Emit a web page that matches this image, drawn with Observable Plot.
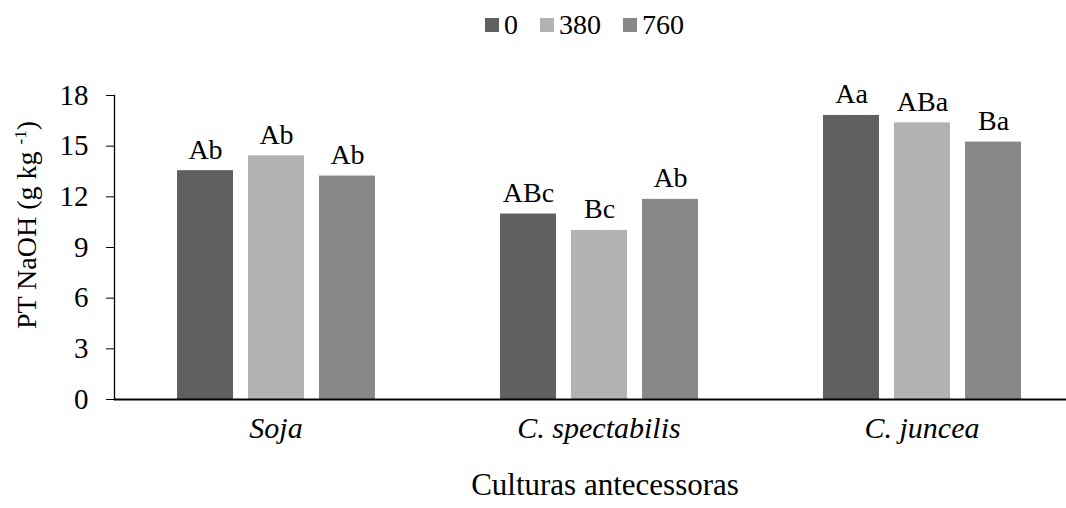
<!DOCTYPE html>
<html><head><meta charset="utf-8">
<script src="https://cdn.jsdelivr.net/npm/d3@7"></script>
<script src="https://cdn.jsdelivr.net/npm/@observablehq/plot@0.6"></script>
<style>
body{margin:0;background:#fff;font-family:"Liberation Serif","DejaVu Serif",Times,serif;color:#000;}
#wrap{position:relative;width:1066px;height:508px;overflow:hidden;}
#legend{position:absolute;top:5px;left:485px;display:flex;align-items:center;font-size:28px;line-height:40px;}
#legend .item{display:flex;align-items:center;margin-right:22px;}
#legend .sw{display:inline-block;width:14px;height:14px;margin-right:5px;}
#ytitle{position:absolute;left:27px;top:225px;transform:translate(-50%,-50%) rotate(-90deg);white-space:nowrap;font-size:28px;}
#ytitle sup{font-size:17px;vertical-align:10px;}
#xtitle{position:absolute;left:605px;top:485px;transform:translate(-50%,-50%);white-space:nowrap;font-size:31px;}
svg{position:absolute;left:0;top:0;}
svg text{font-family:"Liberation Serif","DejaVu Serif",Times,serif;}
</style></head><body><div id="wrap"></div>
<script>
const categories = ["Soja", "C. spectabilis", "C. juncea"];
const doses = ["0", "380", "760"];
const values0 = [13.55, 10.98, 16.82];
const values380 = [14.43, 10.01, 16.38];
const values760 = [13.23, 11.85, 15.24];
const letters0 = ["Ab", "ABc", "Aa"];
const letters380 = ["Ab", "Bc", "ABa"];
const letters760 = ["Ab", "Ab", "Ba"];
const colors = ["#606060", "#b2b2b2", "#888888"];
const yTicks = [0, 3, 6, 9, 12, 15, 18];
const yTitle = "PT NaOH (g kg ";
const ySup = "-1";
const xTitle = "Culturas antecessoras";

const seriesVals = [values0, values380, values760];
const seriesLetters = [letters0, letters380, letters760];
const data = [];
categories.forEach((c, i) => {
  doses.forEach((d, j) => {
    data.push({cultura: c, dose: d, value: seriesVals[j][i], letter: seriesLetters[j][i]});
  });
});

const font = "Liberation Serif, DejaVu Serif, Times, serif";
const chart = Plot.plot({
  width: 1066, height: 508,
  marginLeft: 113, marginRight: -17, marginTop: 95, marginBottom: 109,
  style: {fontFamily: font, fontSize: "28px", color: "#000", background: "transparent", overflow: "hidden"},
  fx: {domain: categories, padding: 0, label: null},
  x: {domain: doses, paddingInner: 0.218, paddingOuter: 0.865, axis: null},
  y: {domain: [0, 18], label: null},
  color: {domain: doses, range: colors},
  marks: [
    Plot.barY(data, {fx: "cultura", x: "dose", y: "value", fill: "dose"}),
    Plot.text(data, {fx: "cultura", x: "dose", y: "value", text: "letter", lineAnchor: "bottom", dy: -12, fontSize: 28, fill: "#000"}),
    Plot.axisY({ticks: yTicks, tickSize: 8, tickPadding: 18, label: null, fontSize: 29, stroke: "#000"}),
    Plot.frame({anchor: "left", facetAnchor: "left", stroke: "#000", strokeWidth: 1.3}),
    Plot.ruleY([0], {stroke: "#000", strokeWidth: 1.8}),
    Plot.axisFx({anchor: "bottom", tickSize: 0, tickPadding: 17, label: null, fontStyle: "italic", fontSize: 30})
  ]
});

const wrap = document.getElementById("wrap");
wrap.appendChild(chart);

const legend = document.createElement("div");
legend.id = "legend";
doses.forEach((d, j) => {
  const it = document.createElement("span");
  it.className = "item";
  const sw = document.createElement("span");
  sw.className = "sw";
  sw.style.background = colors[j];
  it.appendChild(sw);
  it.appendChild(document.createTextNode(d));
  legend.appendChild(it);
});
wrap.appendChild(legend);

const yt = document.createElement("div");
yt.id = "ytitle";
yt.innerHTML = yTitle + "<sup>" + ySup + "</sup>)";
wrap.appendChild(yt);

const xt = document.createElement("div");
xt.id = "xtitle";
xt.textContent = xTitle;
wrap.appendChild(xt);
</script>
</body></html>
